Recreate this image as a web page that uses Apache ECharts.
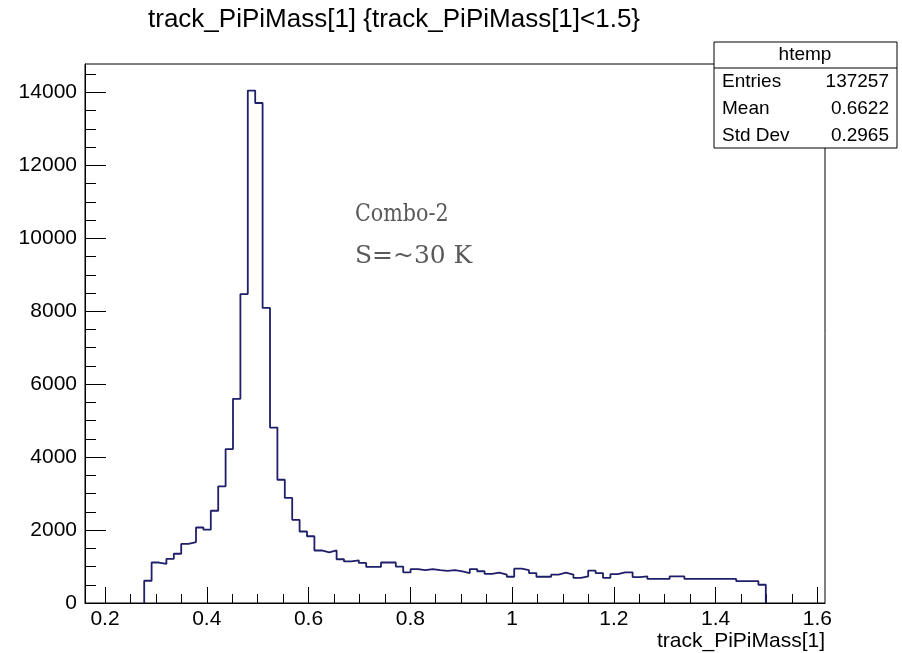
<!DOCTYPE html>
<html>
<head>
<meta charset="utf-8">
<title>track_PiPiMass[1]</title>
<script src="https://cdn.jsdelivr.net/npm/echarts@6/dist/echarts.min.js"></script>
<style>
  html, body { margin: 0; padding: 0; background: #fff; }
  #chart { width: 902px; height: 653px; }
</style>
</head>
<body>
<div id="chart"></div>
<script>
// histogram binning (ROOT default: 100 bins over the auto range)
const X_MIN = 0.1607;
const X_MAX = 1.615;
const N_BINS = 100;
const FIRST_BIN = 8; // first filled bin

// bin contents
const counts = [
  610, 1110, 1070, 1210, 1350, 1620, 1670, 2070, 2010, 2530,
  3200, 4220, 5600, 8470, 14050, 13710, 8090, 4810, 3380, 2880,
  2280, 1960, 1830, 1440, 1390, 1440, 1200, 1140, 1170, 1100,
  990, 990, 1110, 1110, 1000, 840, 930, 900, 930, 900,
  880, 900, 870, 820, 930, 870, 800, 830, 780, 720,
  940, 900, 820, 720, 720, 780, 830, 780, 690, 730,
  890, 820, 690, 790, 840, 840, 710, 730, 660, 660,
  660, 730, 730, 660, 660, 660, 660, 660, 660, 660,
  600, 600, 600, 500
];

const Y_MAX = 14780;
const xTicks = [0.2, 0.4, 0.6, 0.8, 1.0, 1.2, 1.4, 1.6];
const yTicks = [0, 2000, 4000, 6000, 8000, 10000, 12000, 14000];

const stats = [
  ["Entries", "137257"],
  ["Mean", "0.6622"],
  ["Std Dev", "0.2965"],
];

const notes = ["Combo-2", "S=~30 K"];

const binWidth = (X_MAX - X_MIN) / N_BINS;

// step outline: start from 0, one point per bin low edge, close back to 0
const histData = [[X_MIN + FIRST_BIN * binWidth, 0]];
counts.forEach((c, i) => {
  histData.push([X_MIN + (FIRST_BIN + i) * binWidth, c]);
});
histData.push([X_MIN + (FIRST_BIN + counts.length) * binWidth, 0]);

// minor ticks (4 subdivisions)
const xMinor = [];
for (let i = 1; i * 0.05 < X_MAX; i++) {
  const v = +(i * 0.05).toFixed(2);
  if (v > X_MIN && i % 4 !== 0) xMinor.push(v);
}
const yMinor = [];
for (let v = 500; v < Y_MAX; v += 500) {
  if (v % 2000 !== 0) yMinor.push(v);
}

const FONT = "Liberation Sans, Arial, Helvetica, sans-serif";
const SERIF = "DejaVu Serif, Liberation Serif, serif";
const noteScale = [0.86, 1.04]; // get closer to the original font widths

const chart = echarts.init(document.getElementById("chart"));

const option = {
  animation: false,
  backgroundColor: "#fff",
  title: {
    text: "track_PiPiMass[1] {track_PiPiMass[1]<1.5}",
    left: 143,
    top: 2,
    textStyle: {
      fontFamily: FONT,
      fontSize: 26,
      fontWeight: "normal",
      color: "#000",
    },
  },
  grid: {
    left: 85,
    top: 64,
    width: 740,
    height: 539,
    show: true,
    borderColor: "#000",
    borderWidth: 1,
    backgroundColor: "#fff",
  },
  xAxis: [
    {
      type: "value",
      min: X_MIN,
      max: X_MAX,
      name: "track_PiPiMass[1]",
      nameLocation: "end",
      nameGap: 0,
      nameTextStyle: {
        fontFamily: FONT,
        fontSize: 21,
        color: "#000",
        align: "right",
        verticalAlign: "top",
        padding: [28, 0, 0, 0],
      },
      axisLine: { show: true, lineStyle: { color: "#000", width: 1 } },
      axisTick: {
        inside: true,
        length: 16,
        customValues: xTicks,
        lineStyle: { color: "#000", width: 1 },
      },
      axisLabel: {
        customValues: xTicks,
        formatter: (v) => String(v),
        fontFamily: FONT,
        fontSize: 21,
        color: "#000",
        margin: 6,
      },
      splitLine: { show: false },
    },
    {
      // minor ticks only
      type: "value",
      min: X_MIN,
      max: X_MAX,
      position: "bottom",
      axisLine: { show: false },
      axisTick: {
        inside: true,
        length: 9,
        customValues: xMinor,
        lineStyle: { color: "#000", width: 1 },
      },
      axisLabel: { show: false },
      splitLine: { show: false },
    },
  ],
  yAxis: [
    {
      type: "value",
      min: 0,
      max: Y_MAX,
      axisLine: { show: true, lineStyle: { color: "#000", width: 1 } },
      axisTick: {
        inside: true,
        length: 21,
        customValues: yTicks,
        lineStyle: { color: "#000", width: 1 },
      },
      axisLabel: {
        customValues: yTicks,
        formatter: (v) => String(v),
        fontFamily: FONT,
        fontSize: 21,
        color: "#000",
        margin: 8,
      },
      splitLine: { show: false },
    },
    {
      type: "value",
      min: 0,
      max: Y_MAX,
      position: "left",
      axisLine: { show: false },
      axisTick: {
        inside: true,
        length: 11,
        customValues: yMinor,
        lineStyle: { color: "#000", width: 1 },
      },
      axisLabel: { show: false },
      splitLine: { show: false },
    },
  ],
  series: [
    {
      type: "line",
      step: "end",
      data: histData,
      symbol: "none",
      silent: true,
      lineStyle: { color: "#1e1e6a", width: 1.8 },
    },
  ],
  graphic: [
    {
      type: "group",
      z: 100,
      children: [
        {
          type: "rect",
          shape: { x: 714, y: 42, width: 183, height: 106 },
          style: { fill: "#fff", stroke: "#000", lineWidth: 1 },
        },
        {
          type: "line",
          shape: { x1: 714, y1: 68, x2: 897, y2: 68 },
          style: { stroke: "#000", lineWidth: 1 },
        },
        {
          type: "text",
          x: 805,
          y: 55,
          style: {
            text: "htemp",
            fontFamily: FONT,
            fontSize: 19,
            fill: "#000",
            align: "center",
            verticalAlign: "middle",
          },
        },
        ...stats.flatMap(([k, v], i) => [
          {
            type: "text",
            x: 722,
            y: 82 + i * 27,
            style: {
              text: k,
              fontFamily: FONT,
              fontSize: 19,
              fill: "#000",
              align: "left",
              verticalAlign: "middle",
            },
          },
          {
            type: "text",
            x: 889,
            y: 82 + i * 27,
            style: {
              text: v,
              fontFamily: FONT,
              fontSize: 19,
              fill: "#000",
              align: "right",
              verticalAlign: "middle",
            },
          },
        ]),
      ],
    },
    ...notes.map((t, i) => ({
      type: "text",
      x: 355,
      y: 215 + i * 42,
      scaleX: noteScale[i],
      z: 100,
      style: {
        text: t,
        fontFamily: SERIF,
        fontSize: 24,
        fill: "#595959",
        align: "left",
        verticalAlign: "middle",
      },
    })),
  ],
};

chart.setOption(option);
window.addEventListener("resize", () => chart.resize());
</script>
</body>
</html>
